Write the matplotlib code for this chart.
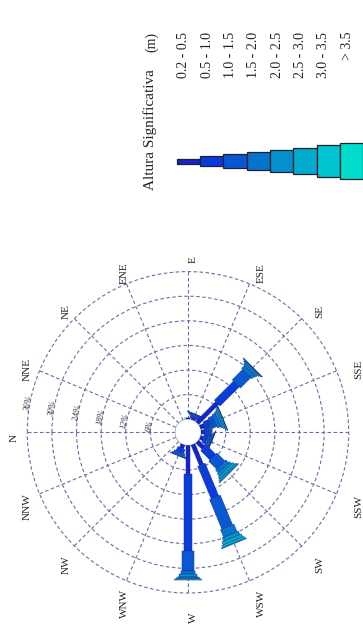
import numpy as np
import matplotlib
matplotlib.use("Agg")
import matplotlib.pyplot as plt
from matplotlib.patches import Polygon, Rectangle
from matplotlib import transforms

# ---------------- data ----------------
directions = ['N', 'NNE', 'NE', 'ENE', 'E', 'ESE', 'SE', 'SSE',
              'S', 'SSW', 'SW', 'WSW', 'W', 'WNW', 'NW', 'NNW']
height_bins = ['0.2 - 0.5', '0.5 - 1.0', '1.0 - 1.5', '1.5 - 2.0',
               '2.0 - 2.5', '2.5 - 3.0', '3.0 - 3.5', '> 3.5']

# frequency (%) per direction for every significant-height class
f_02_05 = [0, 0, 0, 0, 0.2, 0.4, 6.9, 1.2, 0.8, 0.9, 2.2, 5.4, 7.1, 1.0, 0, 0]
f_05_10 = [0, 0, 0, 0, 0.1, 0.5, 6.6, 1.5, 0.7, 0.8, 3.2, 8.6, 18.6, 1.0, 0, 0]
f_10_15 = [0, 0, 0, 0, 0, 0.4, 3.6, 1.2, 0.5, 0.6, 2.7, 7.8, 4.9, 0.6, 0, 0]
f_15_20 = [0, 0, 0, 0, 0, 0.2, 1.0, 0.8, 0.3, 0.35, 1.0, 2.0, 0.7, 0.3, 0, 0]
f_20_25 = [0, 0, 0, 0, 0, 0.1, 0.5, 0.5, 0.15, 0.2, 0.7, 0.9, 0.7, 0.1, 0, 0]
f_25_30 = [0, 0, 0, 0, 0, 0, 0.3, 0.4, 0.1, 0.1, 0.6, 0.8, 0.3, 0, 0, 0]
f_30_35 = [0, 0, 0, 0, 0, 0, 0.2, 0.3, 0.05, 0.05, 0.4, 0.5, 0.3, 0, 0, 0]
f_35_up = [0, 0, 0, 0, 0, 0, 0.1, 0.1, 0, 0, 0.2, 0.2, 0.2, 0, 0, 0]

ring_values = [6, 12, 18, 24, 30, 36]
ring_labels = ['6%', '12%', '18%', '24%', '30%', '36%']
legend_title = 'Altura Significativa'
legend_unit = '(m)'

# ---------------- style ----------------
series = [f_02_05, f_05_10, f_10_15, f_15_20, f_20_25, f_25_30, f_30_35, f_35_up]
colors = ['#1424cc', '#0a3cdc', '#0858d4', '#0674cc', '#0490cc',
          '#02aacc', '#00c4d0', '#00dccc']
rose_px_width = [4.2, 8, 11.5, 14.5, 17.5, 21, 24, 27]
legend_px_height = [5, 10, 13.7, 17.7, 22.3, 26.7, 31.3, 35.7]
grid_color = '#6c6ca8'
serif = ['Liberation Serif', 'DejaVu Serif']

W_PX, H_PX = 363, 633
fig = plt.figure(figsize=(W_PX / 100, H_PX / 100), dpi=100)

rmax = ring_values[-1]
rlim = rmax + 0.35
rorigin = -3.18
cx, cy, R36 = 188.0, 432.3, 160.7
px_per_unit = R36 / (rmax - rorigin)
R = (rlim - rorigin) * px_per_unit
ax = fig.add_axes([(cx - R) / W_PX, (H_PX - cy - R) / H_PX, 2 * R / W_PX, 2 * R / H_PX],
                  projection='polar')
ax.set_theta_zero_location('W')
ax.set_theta_direction(-1)
ax.set_ylim(0, rlim)
ax.set_rorigin(rorigin)
ax.spines['polar'].set_visible(False)
ax.spines['inner'].set_color('#9a9ac0')
ax.spines['inner'].set_linewidth(0.5)
ax.set_thetagrids(np.arange(0, 360, 22.5), labels=[''] * 16)
ax.set_rgrids(ring_values, labels=[''] * len(ring_values))
ax.grid(True, color=grid_color, linestyle=(0, (3.2, 2.2)), linewidth=0.8)
ax.set_facecolor('white')

thetas = np.deg2rad(np.arange(len(directions)) * 22.5)

def seg_polygon(theta, r0, r1, half):
    pts = []
    d0, d1 = r0 - rorigin, r1 - rorigin
    for d, sgn in [(d0, -1), (d1, -1), (d1, 1), (d0, 1)]:
        pts.append((theta + sgn * np.arctan(half / d), np.hypot(d, half) + rorigin))
    return pts

for i, th in enumerate(thetas):
    cum = 0.0
    for j, s in enumerate(series):
        v = s[i]
        if v <= 0:
            continue
        half = rose_px_width[j] / 2 / px_per_unit
        poly = Polygon(seg_polygon(th, cum, cum + v, half), closed=True,
                       facecolor=colors[j], edgecolor='#1c2c90', linewidth=0.35,
                       zorder=3)
        ax.add_patch(poly)
        cum += v

# direction labels
lab_tr = transforms.offset_copy(ax.transData, fig=fig, x=5, y=-6, units='dots')
lab_r = 179 / px_per_unit + rorigin
for th, name in zip(thetas, directions):
    ax.text(th, lab_r, name, rotation=90, ha='center', va='center', transform=lab_tr,
            fontsize=8, family=serif, color='#222222', clip_on=False)

# ring labels
for rv, lab in zip(ring_values, ring_labels):
    ax.text(np.deg2rad(10), rv + 0.3, lab, rotation=80, ha='center', va='center',
            fontsize=6.2, style='italic', family=serif, color='#333333')

# ---------------- legend ----------------
lg = fig.add_axes([0, 0, 1, 1])
lg.set_xlim(0, W_PX)
lg.set_ylim(H_PX, 0)
lg.axis('off')
x0, sw, ymid = 176.7, 23.33, 161.0
for j, (lab, col, hh) in enumerate(zip(height_bins, colors, legend_px_height)):
    lg.add_patch(Rectangle((x0 + j * sw, ymid - hh / 2), sw, hh, facecolor=col,
                           edgecolor='#202030', linewidth=0.9, clip_on=False))
    lg.text(x0 + j * sw + sw / 2 - 4.5, 32, lab, rotation=90, ha='center', va='top',
            fontsize=10, family=serif, color='#222222')
lg.text(150, 130, legend_title, rotation=90, ha='center', va='center',
        fontsize=11, family=serif, color='#222222')
lg.text(152, 42, legend_unit, rotation=90, ha='center', va='center',
        fontsize=10, family=serif, color='#222222')

fig.savefig('out.png', dpi=100, facecolor='white')
